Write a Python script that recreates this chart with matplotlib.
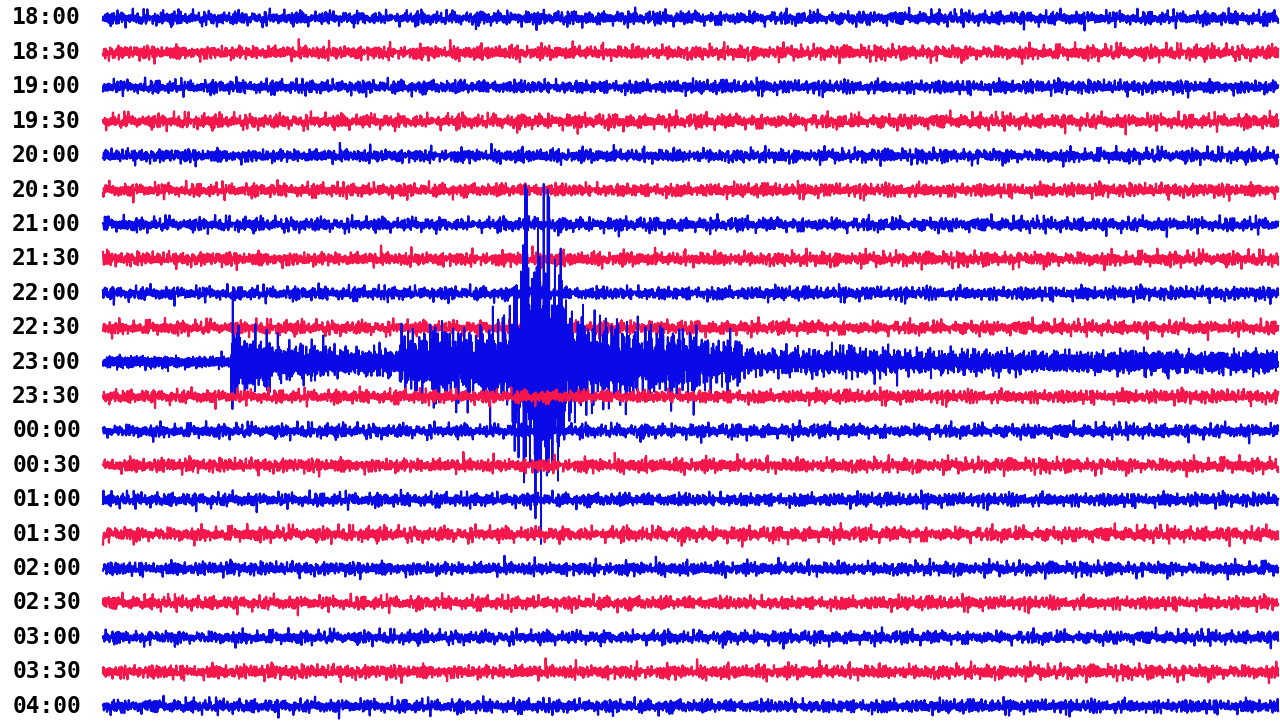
import numpy as np
import matplotlib.pyplot as plt

# helicorder rows, 30 min each
labels = ["18:00", "18:30", "19:00", "19:30", "20:00", "20:30", "21:00",
          "21:30", "22:00", "22:30", "23:00", "23:30", "00:00", "00:30",
          "01:00", "01:30", "02:00", "02:30", "03:00", "03:30", "04:00"]
row_colors = ["#0a0ae6", "#f5174b"]

# noise level of each row (1 = quiet background)
row_level = [1.0, 1.05, 1.0, 1.05, 1.0, 1.0, 1.0, 1.05, 1.0, 1.0, 1.0,
             1.0, 1.0, 1.05, 1.0, 1.05, 1.0, 1.0, 0.95, 1.05, 1.0]

# wiggle samples
wiggle_a = [0.12, -0.35, 0.48, -0.10, 0.27, -0.62, 0.05, 0.33, -0.21, 0.71,
            -0.44, 0.18, -0.05, 0.39, -0.58, 0.22, -0.30, 1.15, -0.16, 0.08,
            -0.47, 0.26, -0.12, 0.54, -0.36, 0.03, 0.41, -0.69, 0.15, -0.24,
            0.60, -0.08, -0.95, 0.31, -0.19, 0.45, -0.52, 0.11, 0.36, -0.28,
            0.07, -0.41, 0.66, -0.14, 0.20, -0.57, 0.29, -0.03, 0.49, -0.33,
            1.30, -0.22, 0.17, -0.46, 0.38, -0.09, 0.25, -0.64, 0.13, 0.52,
            -0.27, 0.04, -0.39, 0.58, -0.18, 0.32, -1.20, 0.09, 0.43, -0.25,
            0.19, -0.50, 0.35, -0.06, 0.62, -0.31, 0.14, -0.43, 0.23, -0.11,
            0.47, -0.55, 0.02, 0.37, -0.20, 0.74, -0.34, 0.16, -0.07, 0.28,
            -0.60, 0.42, -0.15, 0.10, -0.48, 0.56, -0.26, 0.21, -1.05, 0.34,
            -0.13]
wiggle_b = [0.30, -0.18, 0.05, -0.42, 0.25, 0.60, -0.33, 0.12, -0.08, 0.44,
            -0.55, 0.20, -0.27, 0.85, -0.15, 0.36, -0.48, 0.09, 0.22, -0.62,
            0.40, -0.05, 0.17, -0.38, 0.51, -0.24, 0.03, -1.10, 0.28, 0.14,
            -0.31, 0.46, -0.12, 0.33, -0.57, 0.07, 0.19, -0.45, 0.65, -0.21,
            0.11, -0.35, 0.24, -0.02, 0.53, -0.29, 0.38, -0.16, -0.70, 0.15,
            0.42, -0.09, 0.27, -0.51, 0.04, 0.95, -0.37, 0.18, -0.23, 0.31,
            -0.44, 0.06, 0.49, -0.14, 0.21, -0.66, 0.35]

# earthquake on the 23:00 row: gain steps (start minute, gain)
event_row = 10
event_start = [0.0, 3.27, 3.50, 4.26, 5.80, 7.58, 8.35, 9.63, 10.44, 10.70,
               11.41, 11.82, 12.43, 13.71, 15.24, 16.26, 20.35]
event_gain = [0.85, 6.0, 3.8, 2.5, 2.0, 4.0, 5.0, 5.8, 11.0, 19.0,
              13.0, 7.0, 5.5, 4.4, 3.2, 1.9, 1.6]

n = 2600
n_event = 7000
wa = np.array(wiggle_a)
wb = np.array(wiggle_b)
scale = 0.29

fig = plt.figure(figsize=(12.8, 7.25), dpi=100)
ax = fig.add_axes([0, 0, 1, 1])
ax.set_xlim(-2.63, 30.05)
ax.set_ylim(20.55, -0.523)
ax.axis("off")

for i, lab in enumerate(labels):
    m = n_event if i == event_row else n
    t = np.linspace(0, 30, m)
    k = np.arange(m)
    s = 0.6 * wa[(k + 37 * i) % len(wa)] + 0.5 * wb[(7 * k + 11 * i) % len(wb)]
    gain = np.full(m, row_level[i])
    lw = 1.6
    if i == event_row:
        gain = np.array(event_gain)[np.searchsorted(event_start, t, side="right") - 1]
        lw = 1.4
    ax.plot(t, i + s * gain * scale, color=row_colors[i % 2], lw=lw, zorder=i + 1)
    ax.text(-2.32, i, lab, ha="left", va="center", fontsize=16.5,
            family="DejaVu Sans Mono", weight="bold", color="black")

fig.savefig("out.png", dpi=100, facecolor="white")
